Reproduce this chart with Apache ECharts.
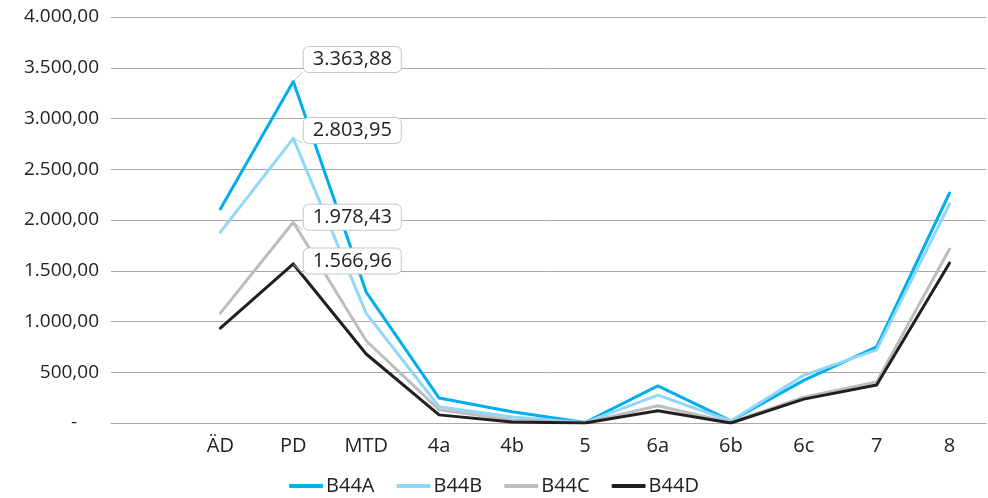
<!DOCTYPE html>
<html>
<head>
<meta charset="utf-8">
<script src="https://cdn.jsdelivr.net/npm/echarts@6/dist/echarts.min.js"></script>
<style>
  html, body { margin: 0; padding: 0; background: #fff; }
  #chart { width: 988px; height: 498px; }
</style>
</head>
<body>
<div id="chart"></div>
<script>
// Categories (first slot is left empty on purpose)
const categories = ['', 'ÄD', 'PD', 'MTD', '4a', '4b', '5', '6a', '6b', '6c', '7', '8'];

const b44a = [null, 2108, 3363.88, 1290, 246, 110, 5, 365, 20, 420, 750, 2266];
const b44b = [null, 1880, 2803.95, 1080, 160, 60, 3, 275, 20, 470, 720, 2157];
const b44c = [null, 1083, 1978.43, 810, 130, 30, 2, 170, 5, 255, 405, 1714];
const b44d = [null, 935, 1566.96, 680, 80, 10, 0, 120, 0, 235, 375, 1576];

const seriesNames = ['B44A', 'B44B', 'B44C', 'B44D'];
const seriesColors = ['#00aeef', '#8fd8f8', '#bcbdc0', '#231f20'];
const labelIndex = 2;            // callout on the PD point
const labelDy = [-22, -8, -5, -3];

const yMin = 0, yMax = 4000, yStep = 500;

function deNum(v) {
  const parts = v.toFixed(2).split('.');
  parts[0] = parts[0].replace(/\B(?=(\d{3})+(?!\d))/g, '.');
  return parts.join(',');
}

const FONT = '"Open Sans", "Noto Sans", sans-serif';

function buildSeries(name, values, color, dy) {
  return {
    name: name,
    type: 'line',
    symbol: 'none',
    smooth: false,
    z: 2,
    lineStyle: { width: 3, color: color, cap: 'round', join: 'round' },
    itemStyle: { color: color },
    data: values.map((v, i) => {
      if (i !== labelIndex) return v;
      return {
        value: v,
        symbol: 'circle',
        symbolSize: 1,
        label: {
          show: true,
          position: 'right',
          distance: 10,
          offset: [0, dy],
          formatter: p => deNum(p.value),
          color: '#222',
          fontFamily: FONT,
          fontSize: 20,
          backgroundColor: '#fff',
          borderColor: '#c8c8c8',
          borderWidth: 1,
          borderRadius: 5,
          padding: [3, 9, 2, 9]
        },
        labelLine: { show: true, lineStyle: { color: '#c0c0c0', width: 1 } }
      };
    }),
    labelLine: { show: true, smooth: false, length2: 0, lineStyle: { color: '#c0c0c0', width: 1 } }
  };
}

const chart = echarts.init(document.getElementById('chart'), null, { renderer: 'canvas' });
chart.setOption({
  animation: false,
  backgroundColor: '#fff',
  grid: { left: 111, right: 2, top: 17, bottom: 75, containLabel: false },
  legend: {
    top: 471,
    left: 'center',
    icon: 'roundRect',
    itemWidth: 34,
    itemHeight: 4,
    itemGap: 22,
    textStyle: { color: '#222', fontFamily: FONT, fontSize: 20, padding: [0, 0, 0, -2] },
    data: seriesNames
  },
  xAxis: {
    type: 'category',
    data: categories,
    boundaryGap: true,
    axisLine: { show: true, lineStyle: { color: '#a8a8a8', width: 1 } },
    axisTick: { show: false },
    axisLabel: { color: '#222', fontFamily: FONT, fontSize: 20, margin: 13, interval: 0 }
  },
  yAxis: {
    type: 'value',
    min: yMin,
    max: yMax,
    interval: yStep,
    axisLine: { show: false },
    axisTick: { show: false },
    splitLine: { lineStyle: { color: '#a8a8a8', width: 1 } },
    axisLabel: {
      color: '#222',
      fontFamily: FONT,
      fontSize: 19,
      margin: 12,
      formatter: v => v === 0 ? '{z|-}' : deNum(v),
      rich: { z: { fontFamily: FONT, fontSize: 19, color: '#222', padding: [0, 22, 0, 0] } }
    }
  },
  series: [
    buildSeries(seriesNames[0], b44a, seriesColors[0], labelDy[0]),
    buildSeries(seriesNames[1], b44b, seriesColors[1], labelDy[1]),
    buildSeries(seriesNames[2], b44c, seriesColors[2], labelDy[2]),
    buildSeries(seriesNames[3], b44d, seriesColors[3], labelDy[3])
  ]
});
</script>
</body>
</html>
